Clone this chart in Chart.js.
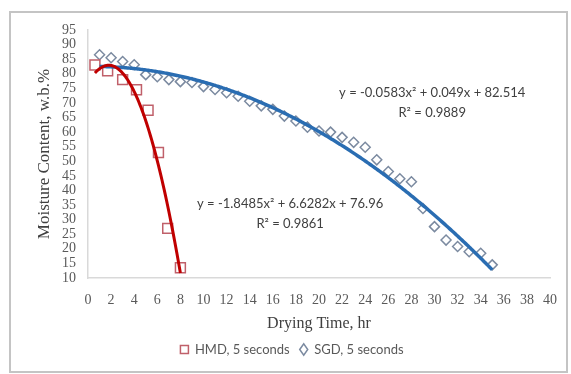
<!DOCTYPE html>
<html>
<head>
<meta charset="utf-8">
<script src="https://cdn.jsdelivr.net/npm/chart.js@4/dist/chart.umd.min.js"></script>
<style>
  html, body { margin: 0; padding: 0; background: #fff; }
  #wrap { width: 571px; height: 374px; position: relative; }
</style>
</head>
<body>
<div id="wrap"><canvas id="chart"></canvas></div>
<script>
// drying runs, moisture content (w.b. %) against drying time (hr)
const hmdTime = [0.6, 1.7, 3.0, 4.2, 5.2, 6.1, 6.9, 8.0];
const hmdMoisture = [83, 81, 78, 74.5, 67.5, 53, 27, 13.5];

const sgdTime = [1, 2, 3, 4, 5, 6, 7, 8, 9, 10, 11, 12, 13, 14, 15, 16, 17, 18,
  19, 20, 21, 22, 23, 24, 25, 26, 27, 28, 29, 30, 31, 32, 33, 34, 35];
const sgdMoisture = [86.5, 85.5, 84.2, 83.1, 79.7, 79, 78, 77.3, 77, 75.6, 74.6, 73.5,
  72.3, 70.6, 69, 67.8, 65.5, 63.8, 61.7, 60.4, 60, 58.2, 56.5, 54.8, 50.5, 46.5,
  44, 43, 33.8, 27.6, 23, 20.8, 19, 18.5, 14.5];

// polynomial trendlines (a x^2 + b x + c) and their R^2
const hmdFit = [-1.8485, 6.6282, 76.96];
const sgdFit = [-0.0583, 0.049, 82.514];
const hmdR2 = "0.9861";
const sgdR2 = "0.9889";

const seriesNames = ["HMD, 5 seconds", "SGD, 5 seconds"];

function toPoints(xs, ys) {
  return xs.map((x, i) => ({ x: x, y: ys[i] }));
}

function trend(c, from, to) {
  let pts = [];
  for (let x = from; x <= to + 1e-9; x += 0.1) {
    pts.push({ x: x, y: c[0] * x * x + c[1] * x + c[2] });
  }
  return pts;
}

function eqText(c) {
  let b = c[1] < 0 ? " - " + Math.abs(c[1]) : " + " + c[1];
  let k = c[2] < 0 ? " - " + Math.abs(c[2]) : " + " + c[2];
  return "y = " + c[0] + "x\u00B2" + b + "x" + k;
}

// equation labels, anchored in data units
const eqLabels = [
  { fit: hmdFit, r2: hmdR2, x: 17.5, y: 35.5 },
  { fit: sgdFit, r2: sgdR2, x: 29.8, y: 73.5 }
];

const framePlugin = {
  id: "frame",
  beforeDraw(chart) {
    const ctx = chart.ctx;
    ctx.save();
    ctx.fillStyle = "#fff";
    ctx.fillRect(0, 0, chart.width, chart.height);
    ctx.strokeStyle = "#c4c4c4";
    ctx.lineWidth = 2;
    ctx.strokeRect(10, 12, 557, 360);
    ctx.restore();
  }
};

const equationPlugin = {
  id: "equations",
  afterDatasetsDraw(chart) {
    const ctx = chart.ctx;
    const xs = chart.scales.x, ys = chart.scales.y;
    ctx.save();
    ctx.font = "13px Lato";
    ctx.fillStyle = "#404040";
    ctx.textAlign = "center";
    ctx.textBaseline = "middle";
    eqLabels.forEach(l => {
      const px = xs.getPixelForValue(l.x);
      const py = ys.getPixelForValue(l.y);
      ctx.fillText(eqText(l.fit), px, py);
      ctx.fillText("R\u00B2 = " + l.r2, px, py + 20);
    });
    ctx.restore();
  }
};

new Chart(document.getElementById("chart").getContext("2d"), {
  type: "scatter",
  data: {
    datasets: [
      {
        label: "hmd trend",
        data: trend(hmdFit, hmdTime[0], hmdTime[hmdTime.length - 1]),
        showLine: true,
        borderColor: "#c00000",
        borderWidth: 3,
        pointRadius: 0,
        order: 1
      },
      {
        label: "sgd trend",
        data: trend(sgdFit, sgdTime[0], sgdTime[sgdTime.length - 1]),
        showLine: true,
        borderColor: "#2a6db2",
        borderWidth: 3.5,
        pointRadius: 0,
        order: 1
      },
      {
        label: seriesNames[0],
        data: toPoints(hmdTime, hmdMoisture),
        pointStyle: "rect",
        pointRadius: 7,
        pointBorderColor: "#c0606a",
        pointBackgroundColor: "rgba(255,255,255,0)",
        pointBorderWidth: 1.5,
        borderColor: "#c0606a",
        backgroundColor: "rgba(255,255,255,0)",
        order: 2
      },
      {
        label: seriesNames[1],
        data: toPoints(sgdTime, sgdMoisture),
        pointStyle: "rectRot",
        pointRadius: 5,
        pointBorderColor: "#7b8aa0",
        pointBackgroundColor: "rgba(255,255,255,0)",
        pointBorderWidth: 1.5,
        borderColor: "#7b8aa0",
        backgroundColor: "rgba(255,255,255,0)",
        order: 2
      }
    ]
  },
  options: {
    responsive: true,
    maintainAspectRatio: false,
    animation: false,
    layout: { padding: { left: 34, right: 21, top: 30, bottom: 8 } },
    plugins: {
      tooltip: { enabled: false },
      legend: {
        position: "bottom",
        labels: {
          filter: item => seriesNames.includes(item.text),
          usePointStyle: true,
          boxWidth: 8,
          boxHeight: 8,
          pointStyleWidth: 8,
          padding: 10,
          color: "#595959",
          font: { family: "Lato", size: 13 }
        }
      }
    },
    scales: {
      x: {
        type: "linear",
        min: 0,
        max: 40,
        ticks: {
          stepSize: 2,
          autoSkip: false,
          padding: 14,
          color: "#595959",
          font: { family: "Liberation Serif", size: 14 }
        },
        grid: { display: false, drawTicks: false },
        border: { color: "#d9d9d9", width: 1.5 },
        title: {
          display: true,
          text: "Drying Time, hr",
          color: "#404040",
          padding: 0,
          font: { family: "Liberation Serif", size: 16 }
        },
        afterFit: scale => { scale.height = 55; }
      },
      y: {
        min: 10,
        max: 95,
        ticks: {
          stepSize: 5,
          autoSkip: false,
          padding: 12,
          color: "#595959",
          font: { family: "Liberation Serif", size: 14 }
        },
        grid: { display: false, drawTicks: false },
        border: { color: "#d9d9d9", width: 1.5 },
        title: {
          display: true,
          text: "Moisture Content, w.b.%",
          color: "#404040",
          padding: 0,
          font: { family: "Liberation Serif", size: 17 }
        },
        afterFit: scale => { scale.width = 54; }
      }
    }
  },
  plugins: [framePlugin, equationPlugin]
});
</script>
</body>
</html>
